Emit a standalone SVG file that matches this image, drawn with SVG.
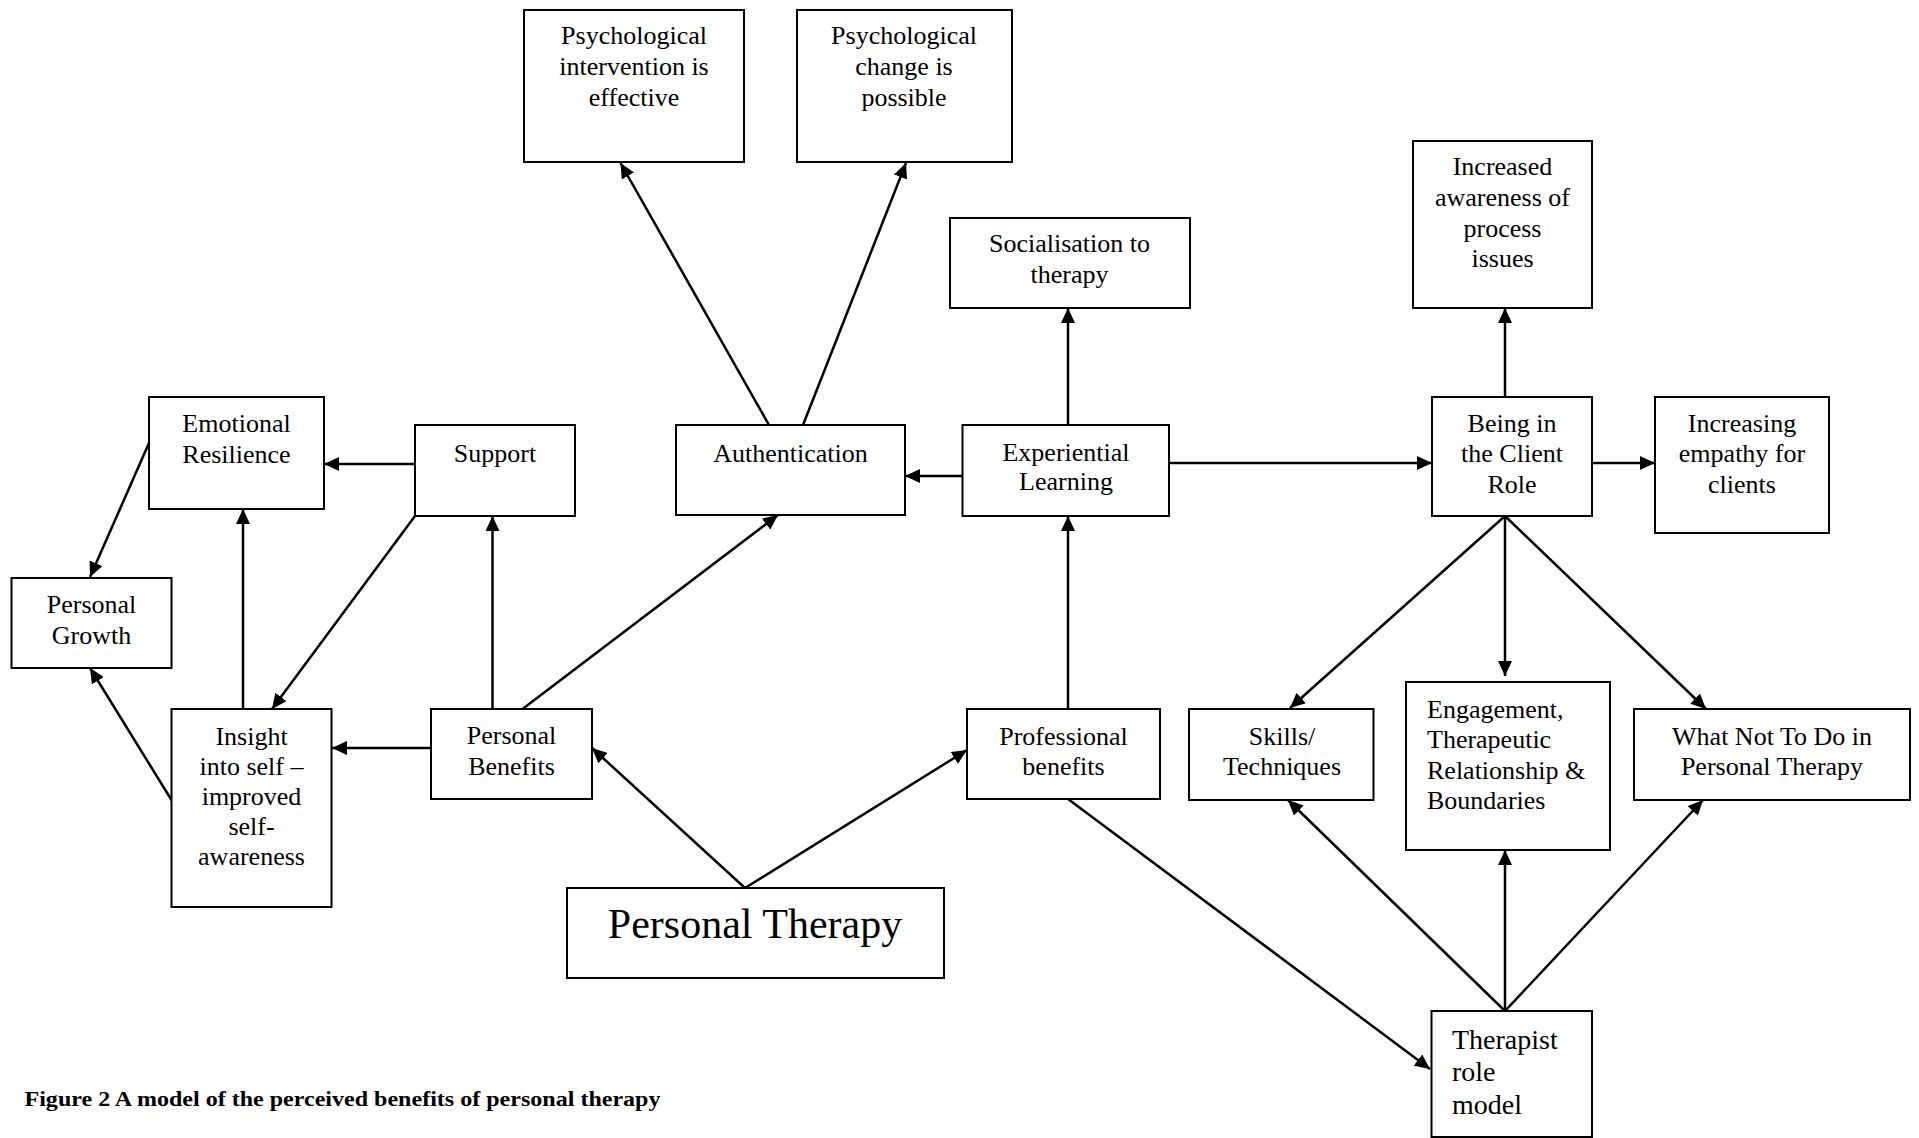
<svg xmlns="http://www.w3.org/2000/svg" width="1919" height="1138" viewBox="0 0 1919 1138">
<style>
rect{fill:#fff;stroke:#000;stroke-width:2}
text{font-family:"Liberation Serif","Times New Roman",serif;font-size:26px;fill:#000}
.c{text-anchor:middle}
#connectors path{stroke:#000;stroke-width:2.5;fill:none;marker-end:url(#ah)}
</style>
<defs>
<marker id="ah" markerUnits="userSpaceOnUse" markerWidth="16" markerHeight="14" refX="15" refY="7" orient="auto">
<path d="M0,0 L15,7 L0,14 z" fill="#000"/>
</marker>
</defs>
<rect x="0" y="0" width="1919" height="1138" style="stroke:none"/>
<g id="connectors">
<path d="M415,464 L324,464"/>
<path d="M149,443 L90,577"/>
<path d="M243,709 L243,509"/>
<path d="M415,516 L272,709"/>
<path d="M492.5,709 L492.5,516"/>
<path d="M431,748 L332,748"/>
<path d="M171.5,800 L90,668"/>
<path d="M522.5,709 L778,515"/>
<path d="M745,888 L592,748"/>
<path d="M745,888 L967,750"/>
<path d="M1068,709 L1068,516"/>
<path d="M962.5,476 L905,476"/>
<path d="M769,425 L620.5,163"/>
<path d="M803,425 L906,163"/>
<path d="M1068,425 L1068,308"/>
<path d="M1169,463 L1432,463"/>
<path d="M1505,397 L1505,308"/>
<path d="M1592,463 L1655,463"/>
<path d="M1505,516 L1290,708"/>
<path d="M1505,516 L1505,676"/>
<path d="M1505,516 L1706,709"/>
<path d="M1068,799 L1430,1069"/>
<path d="M1505,1011 L1288,800"/>
<path d="M1505,1011 L1505,850"/>
<path d="M1505,1011 L1703,800"/>
</g>
<g id="n-psych-intervention"><rect x="524" y="10" width="220" height="152"/><text class="c" x="634" y="44">Psychological</text><text class="c" x="634" y="75">intervention is</text><text class="c" x="634" y="106">effective</text></g>
<g id="n-psych-change"><rect x="797" y="10" width="215" height="152"/><text class="c" x="904" y="44">Psychological</text><text class="c" x="904" y="75">change is</text><text class="c" x="904" y="106">possible</text></g>
<g id="n-socialisation"><rect x="950" y="218" width="240" height="90"/><text class="c" x="1069.5" y="252">Socialisation to</text><text class="c" x="1069.5" y="283">therapy</text></g>
<g id="n-increased-awareness"><rect x="1413" y="141" width="179" height="167"/><text class="c" x="1502.5" y="175">Increased</text><text class="c" x="1502.5" y="206">awareness of</text><text class="c" x="1502.5" y="237">process</text><text class="c" x="1502.5" y="267">issues</text></g>
<g id="n-emotional-resilience"><rect x="149" y="397" width="175" height="112"/><text class="c" x="236.5" y="432">Emotional</text><text class="c" x="236.5" y="463">Resilience</text></g>
<g id="n-support"><rect x="415" y="425" width="160" height="91"/><text class="c" x="495" y="462">Support</text></g>
<g id="n-authentication"><rect x="676" y="425" width="229" height="90"/><text class="c" x="790.5" y="462">Authentication</text></g>
<g id="n-experiential"><rect x="962.5" y="425" width="206.5" height="91"/><text class="c" x="1066" y="461">Experiential</text><text class="c" x="1066" y="490">Learning</text></g>
<g id="n-client-role"><rect x="1432" y="397" width="160" height="119"/><text class="c" x="1512" y="432">Being in</text><text class="c" x="1512" y="462">the Client</text><text class="c" x="1512" y="493">Role</text></g>
<g id="n-empathy"><rect x="1655" y="397" width="174" height="136"/><text class="c" x="1742" y="432">Increasing</text><text class="c" x="1742" y="462">empathy for</text><text class="c" x="1742" y="493">clients</text></g>
<g id="n-personal-growth"><rect x="11.5" y="578" width="160" height="90"/><text class="c" x="91.5" y="613">Personal</text><text class="c" x="91.5" y="644">Growth</text></g>
<g id="n-insight"><rect x="171.5" y="709" width="160" height="198"/><text class="c" x="251.5" y="745">Insight</text><text class="c" x="251.5" y="775">into self –</text><text class="c" x="251.5" y="805">improved</text><text class="c" x="251.5" y="835">self-</text><text class="c" x="251.5" y="865">awareness</text></g>
<g id="n-personal-benefits"><rect x="431" y="709" width="161" height="90"/><text class="c" x="511.5" y="744">Personal</text><text class="c" x="511.5" y="775">Benefits</text></g>
<g id="n-professional-benefits"><rect x="967" y="709" width="193" height="90"/><text class="c" x="1063.5" y="745">Professional</text><text class="c" x="1063.5" y="775">benefits</text></g>
<g id="n-skills"><rect x="1189" y="709" width="184.5" height="91"/><text class="c" x="1282" y="745">Skills/</text><text class="c" x="1282" y="775">Techniques</text></g>
<g id="n-engagement"><rect x="1406" y="682" width="204" height="168"/><text x="1427" y="718">Engagement,</text><text x="1427" y="748">Therapeutic</text><text x="1427" y="779">Relationship &amp;</text><text x="1427" y="809">Boundaries</text></g>
<g id="n-what-not"><rect x="1634" y="709" width="276" height="91"/><text class="c" x="1772" y="745">What Not To Do in</text><text class="c" x="1772" y="775">Personal Therapy</text></g>
<g id="n-personal-therapy"><rect x="567" y="888" width="377" height="90"/><text class="c" x="755" y="938" style="font-size:42px">Personal Therapy</text></g>
<g id="n-therapist-role-model"><rect x="1431.5" y="1011" width="160.5" height="126"/><text x="1452" y="1049" style="font-size:28px">Therapist</text><text x="1452" y="1081" style="font-size:28px">role</text><text x="1452" y="1114" style="font-size:28px">model</text></g>
<text x="24.5" y="1106" style="font-size:21px;font-weight:bold" textLength="636" lengthAdjust="spacingAndGlyphs">Figure 2 A model of the perceived benefits of personal therapy</text>
</svg>
